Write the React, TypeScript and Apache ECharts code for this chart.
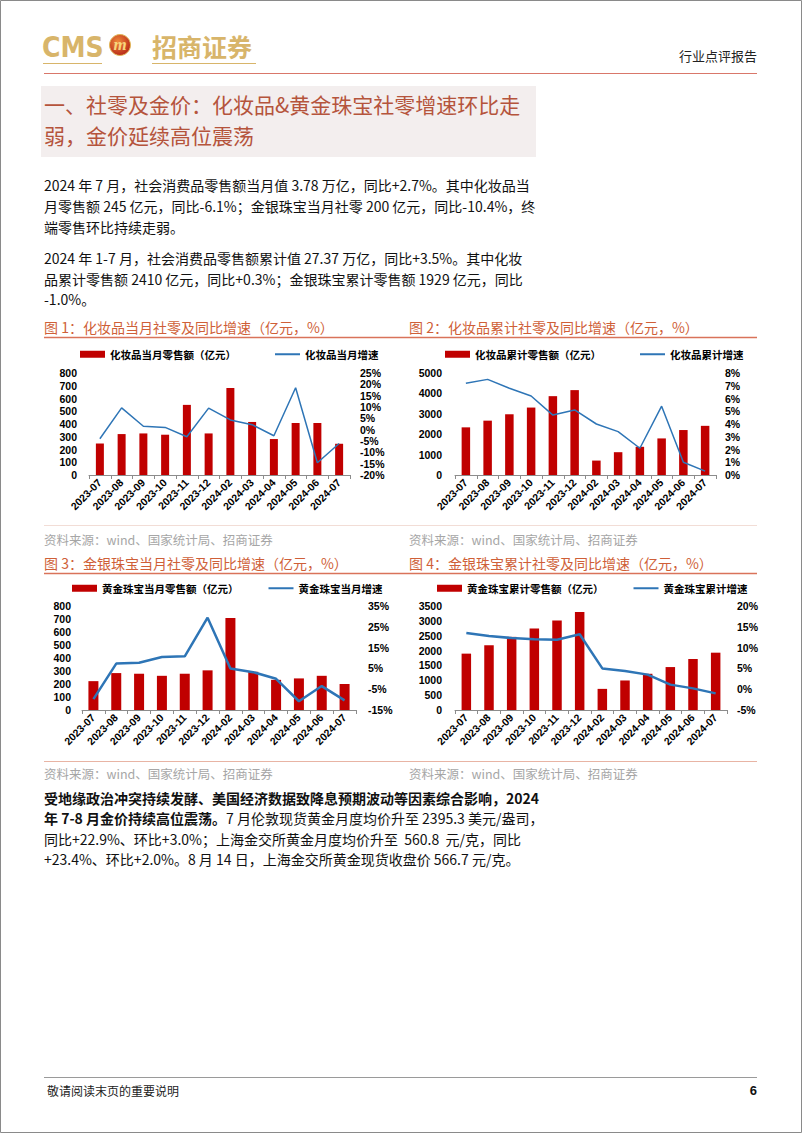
import React, { useEffect, useRef } from "react";
import * as echarts from "echarts";

// ---------------- data ----------------
const categories = [
  "2023-07", "2023-08", "2023-09", "2023-10", "2023-11", "2023-12",
  "2024-02", "2024-03", "2024-04", "2024-05", "2024-06", "2024-07",
];

const cosMonthSales = [247, 321, 326, 316, 550, 326, 682, 416, 282, 408, 408, 245];
const cosMonthYoY = [-4.0, 9.6, 1.5, 1.0, -3.1, 9.5, 4.3, 2.2, -2.7, 18.5, -14.6, -6.1];
const cosCumSales = [2336, 2664, 2977, 3306, 3865, 4161, 707, 1118, 1382, 1793, 2204, 2410];
const cosCumYoY = [7.2, 7.5, 6.8, 6.2, 4.7, 5.1, 4.0, 3.4, 2.1, 5.4, 1.0, 0.3];
const goldMonthSales = [222, 284, 279, 263, 279, 305, 707, 294, 232, 243, 263, 200];
const goldMonthYoY = [-9.8, 7.3, 7.7, 10.5, 10.8, 29.4, 5.0, 3.2, 0.0, -10.8, -3.5, -10.4];
const goldCumSales = [1897, 2179, 2461, 2743, 3015, 3297, 711, 994, 1219, 1445, 1716, 1929];
const goldCumYoY = [13.5, 12.8, 12.3, 12.0, 11.9, 13.2, 5.0, 4.4, 3.5, 1.1, 0.2, -1.0];

const cosMonthLeftTicks = [0, 100, 200, 300, 400, 500, 600, 700, 800];
const cosMonthRightTicks = [-20, -15, -10, -5, 0, 5, 10, 15, 20, 25];
const cosCumLeftTicks = [0, 1000, 2000, 3000, 4000, 5000];
const cosCumRightTicks = [0, 1, 2, 3, 4, 5, 6, 7, 8];
const goldMonthLeftTicks = [0, 100, 200, 300, 400, 500, 600, 700, 800];
const goldMonthRightTicks = [-15, -5, 5, 15, 25, 35];
const goldCumLeftTicks = [0, 500, 1000, 1500, 2000, 2500, 3000, 3500];
const goldCumRightTicks = [-5, 0, 5, 10, 15, 20];

const seriesNames = [
  ["化妆品当月零售额（亿元）", "化妆品当月增速"],
  ["化妆品累计零售额（亿元）", "化妆品累计增速"],
  ["黄金珠宝当月零售额（亿元）", "黄金珠宝当月增速"],
  ["黄金珠宝累计零售额（亿元）", "黄金珠宝累计增速"],
];

const figureTitles = [
  "图 1：化妆品当月社零及同比增速（亿元，%）",
  "图 2：化妆品累计社零及同比增速（亿元，%）",
  "图 3：金银珠宝当月社零及同比增速（亿元，%）",
  "图 4：金银珠宝累计社零及同比增速（亿元，%）",
];
const sourceText = "资料来源：wind、国家统计局、招商证券";

const headerBrand = "招商证券";
const headerType = "行业点评报告";
const sectionTitle = ["一、社零及金价：化妆品&黄金珠宝社零增速环比走", "弱，金价延续高位震荡"];
const para1 = [
  "2024 年 7 月，社会消费品零售额当月值 3.78 万亿，同比+2.7%。其中化妆品当",
  "月零售额 245 亿元，同比-6.1%；金银珠宝当月社零 200 亿元，同比-10.4%，终",
  "端零售环比持续走弱。",
];
const para2 = [
  "2024 年 1-7 月，社会消费品零售额累计值 27.37 万亿，同比+3.5%。其中化妆",
  "品累计零售额 2410 亿元，同比+0.3%；金银珠宝累计零售额 1929 亿元，同比",
  "-1.0%。",
];
const para3Bold1 = "受地缘政治冲突持续发酵、美国经济数据致降息预期波动等因素综合影响，2024";
const para3Bold2 = "年 7-8 月金价持续高位震荡。";
const para3Rest2 = "7 月伦敦现货黄金月度均价升至 2395.3 美元/盎司，";
const para3Line3 = "同比+22.9%、环比+3.0%；上海金交所黄金月度均价升至  560.8  元/克，同比";
const para3Line4 = "+23.4%、环比+2.0%。8 月 14 日，上海金交所黄金现货收盘价 566.7 元/克。";
const footerNote = "敬请阅读末页的重要说明";
const pageNo = "6";

// ---------------- styles ----------------
const CJK = "'Noto Sans CJK SC', 'Noto Sans', sans-serif";
const BODY = "'Liberation Sans Narrow', 'Arial Narrow', 'Noto Sans CJK SC', sans-serif";
const AXIS = "'Liberation Sans', Arial, 'Noto Sans CJK SC', sans-serif";
const BAR_COLOR = "#c00000";
const LINE_COLOR = "#2e75b6";
const TITLE_COLOR = "#cf5f38";

const panels = [
  { grid: { left: 89, top: 373, width: 261, height: 102 }, legend: { left: 80, top: 349, itemGap: 38 },
    bars: cosMonthSales, line: cosMonthYoY, lt: cosMonthLeftTicks, rt: cosMonthRightTicks,
    names: seriesNames[0], barWidth: 8, lineWidth: 1.5, lm: 12, rm: 10 },
  { grid: { left: 455, top: 373, width: 261, height: 102 }, legend: { left: 445, top: 349, itemGap: 38 },
    bars: cosCumSales, line: cosCumYoY, lt: cosCumLeftTicks, rt: cosCumRightTicks,
    names: seriesNames[1], barWidth: 8.5, lineWidth: 1.5, lm: 13, rm: 9 },
  { grid: { left: 82, top: 606, width: 274, height: 104 }, legend: { left: 72, top: 583, itemGap: 29 },
    bars: goldMonthSales, line: goldMonthYoY, lt: goldMonthLeftTicks, rt: goldMonthRightTicks,
    names: seriesNames[2], barWidth: 10, lineWidth: 2.5, lm: 11, rm: 12 },
  { grid: { left: 455, top: 606, width: 272, height: 104 }, legend: { left: 437, top: 583, itemGap: 29 },
    bars: goldCumSales, line: goldCumYoY, lt: goldCumLeftTicks, rt: goldCumRightTicks,
    names: seriesNames[3], barWidth: 9.5, lineWidth: 2.5, lm: 13, rm: 10 },
];

function txt(x: number, y: number, text: string, o: any = {}) {
  return {
    type: "text",
    x,
    y,
    silent: true,
    style: {
      text,
      fontSize: o.fontSize ?? 14,
      fontFamily: o.fontFamily ?? BODY,
      fontWeight: o.fontWeight ?? "normal",
      fontStyle: o.fontStyle ?? "normal",
      fill: o.fill ?? "#111",
      textAlign: o.align ?? "left",
      align: o.align ?? "left",
      textVerticalAlign: "middle",
      verticalAlign: "middle",
      rich: o.rich,
    },
  };
}
function hline(x1: number, x2: number, y: number, stroke: string, w = 1) {
  return { type: "line", silent: true, shape: { x1, y1: y, x2, y2: y }, style: { stroke, lineWidth: w } };
}

function buildOption() {
  const grid: any[] = [];
  const xAxis: any[] = [];
  const yAxis: any[] = [];
  const series: any[] = [];
  const legend: any[] = [];

  panels.forEach((p, i) => {
    grid.push({ ...p.grid, containLabel: false });
    xAxis.push({
      type: "category",
      gridIndex: i,
      data: categories,
      boundaryGap: true,
      axisLine: { lineStyle: { color: "#8c8c8c", width: 1 } },
      axisTick: { show: true, length: 4, interval: 0, lineStyle: { color: "#8c8c8c" } },
      axisLabel: { interval: 0, rotate: 45, fontSize: 10.5, fontWeight: "bold", color: "#000", fontFamily: AXIS, margin: 6 },
      splitLine: { show: false },
    });
    const lt = p.lt, rt = p.rt;
    yAxis.push({
      type: "value",
      gridIndex: i,
      position: "left",
      min: lt[0],
      max: lt[lt.length - 1],
      interval: lt[1] - lt[0],
      axisLine: { show: false },
      axisTick: { show: false },
      splitLine: { show: false },
      axisLabel: {
        fontSize: 10.5, fontWeight: "bold", color: "#000", fontFamily: AXIS, margin: p.lm,
        customValues: lt, formatter: (v: number) => String(v),
      },
    });
    yAxis.push({
      type: "value",
      gridIndex: i,
      position: "right",
      min: rt[0],
      max: rt[rt.length - 1],
      interval: rt[1] - rt[0],
      axisLine: { show: false },
      axisTick: { show: false },
      splitLine: { show: false },
      axisLabel: {
        fontSize: 10.5, fontWeight: "bold", color: "#000", fontFamily: AXIS, margin: p.rm,
        customValues: rt, formatter: (v: number) => `${v}%`,
      },
    });
    series.push({
      type: "bar",
      name: p.names[0],
      xAxisIndex: i,
      yAxisIndex: 2 * i,
      data: p.bars,
      barWidth: p.barWidth,
      itemStyle: { color: BAR_COLOR },
    });
    series.push({
      type: "line",
      name: p.names[1],
      xAxisIndex: i,
      yAxisIndex: 2 * i + 1,
      data: p.line,
      symbol: "none",
      showSymbol: false,
      lineStyle: { color: LINE_COLOR, width: p.lineWidth },
      itemStyle: { color: LINE_COLOR },
    });
    legend.push({
      left: p.legend.left,
      top: p.legend.top,
      orient: "horizontal",
      padding: 0,
      itemWidth: 25,
      itemHeight: 7,
      itemGap: p.legend.itemGap,
      selectedMode: false,
      textStyle: { fontSize: 10.5, fontWeight: "bold", color: "#000", fontFamily: CJK },
      data: [
        { name: p.names[0], icon: "rect" },
        { name: p.names[1], itemStyle: { opacity: 0 } },
      ],
    });
  });

  const graphic: any[] = [
    // page border
    { type: "rect", silent: true, shape: { x: 0.5, y: 0.5, width: 801, height: 1132 }, style: { fill: "none", stroke: "#8a8a8a", lineWidth: 1 } },
    // header
    txt(42, 47, "CMS", { fontSize: 28, fontWeight: "bold", fontFamily: "'Liberation Sans Narrow', 'DejaVu Sans Condensed', sans-serif", fill: "#d8b56a" }),
    {
      type: "circle",
      silent: true,
      shape: { cx: 120, cy: 45, r: 10.5 },
      style: {
        fill: new echarts.graphic.RadialGradient(0.4, 0.35, 0.7, [
          { offset: 0, color: "#f08a3a" },
          { offset: 1, color: "#b52418" },
        ]),
        stroke: "#e2b85a",
        lineWidth: 1,
      },
    },
    txt(120, 44, "m", { fontSize: 17, fontWeight: "bold", fontStyle: "italic", fill: "#f7d67c", align: "center", fontFamily: "'Liberation Serif', serif" }),
    txt(152, 46, headerBrand, { fontSize: 25, fontWeight: "bold", fill: "#d8b56a", fontFamily: CJK }),
    hline(43, 102, 63.5, "#d8b56a", 1.2),
    hline(152, 256, 63.5, "#d8b56a", 1.2),
    txt(757, 55, headerType, { fontSize: 13, fill: "#222", align: "right", fontFamily: CJK }),
    hline(44, 757, 73.5, "#d9776a", 1),
    // section banner
    { type: "rect", silent: true, shape: { x: 41, y: 86, width: 495, height: 71 }, style: { fill: "#f3eeee" } },
    txt(44, 104, sectionTitle[0], { fontSize: 21, fill: "#b5543c", fontFamily: CJK }),
    txt(44, 135, sectionTitle[1], { fontSize: 21, fill: "#b5543c", fontFamily: CJK }),
  ];

  para1.forEach((l, k) => graphic.push(txt(44, 185 + 21 * k, l)));
  para2.forEach((l, k) => graphic.push(txt(44, 258 + 20.5 * k, l)));

  // figure titles / lines / sources
  graphic.push(txt(44, 327, figureTitles[0], { fill: TITLE_COLOR, fontFamily: CJK }));
  graphic.push(txt(409, 327, figureTitles[1], { fill: TITLE_COLOR, fontFamily: CJK }));
  graphic.push(hline(44, 757, 337.5, "#d9735a", 1.5));
  graphic.push(hline(44, 757, 525.5, "#f2ddd6", 1));
  graphic.push(txt(44, 539, sourceText, { fontSize: 12.5, fill: "#a6a6a6", fontFamily: CJK }));
  graphic.push(txt(409, 539, sourceText, { fontSize: 12.5, fill: "#a6a6a6", fontFamily: CJK }));

  graphic.push(txt(44, 563, figureTitles[2], { fill: TITLE_COLOR, fontFamily: CJK }));
  graphic.push(txt(409, 563, figureTitles[3], { fill: TITLE_COLOR, fontFamily: CJK }));
  graphic.push(hline(44, 757, 573.5, "#d9735a", 1.5));
  graphic.push(hline(44, 757, 761.5, "#e8b4a4", 1));
  graphic.push(txt(44, 773, sourceText, { fontSize: 12.5, fill: "#a6a6a6", fontFamily: CJK }));
  graphic.push(txt(409, 773, sourceText, { fontSize: 12.5, fill: "#a6a6a6", fontFamily: CJK }));

  // gold paragraph
  graphic.push(txt(44, 798, para3Bold1, { fontWeight: "bold" }));
  graphic.push(
    txt(44, 818, `{b|${para3Bold2}}{n|${para3Rest2}}`, {
      rich: {
        b: { fontSize: 14, fontWeight: "bold", fontFamily: BODY, fill: "#111" },
        n: { fontSize: 14, fontWeight: "normal", fontFamily: BODY, fill: "#111" },
      },
    })
  );
  graphic.push(txt(44, 839, para3Line3));
  graphic.push(txt(44, 859, para3Line4));

  // footer
  graphic.push(hline(44, 757, 1077.5, "#9a9a9a", 1));
  graphic.push(txt(47, 1090, footerNote, { fontSize: 12, fill: "#222", fontFamily: CJK }));
  graphic.push(txt(757, 1090, pageNo, { fontSize: 13, fontWeight: "bold", fill: "#111", align: "right", fontFamily: AXIS }));

  return {
    animation: false,
    backgroundColor: "#ffffff",
    textStyle: { fontFamily: CJK },
    grid,
    xAxis,
    yAxis,
    series,
    legend,
    graphic,
  };
}

export default function App() {
  const ref = useRef<HTMLDivElement>(null);
  useEffect(() => {
    document.body.style.margin = "0";
    document.body.style.overflow = "hidden";
    if (!ref.current) return;
    const chart = echarts.init(ref.current, undefined, { renderer: "svg" });
    chart.setOption(buildOption() as any);
    return () => chart.dispose();
  }, []);
  return (
    <div
      ref={ref}
      style={{ position: "absolute", left: 0, top: 0, width: 802, height: 1133, background: "#fff" }}
    />
  );
}
